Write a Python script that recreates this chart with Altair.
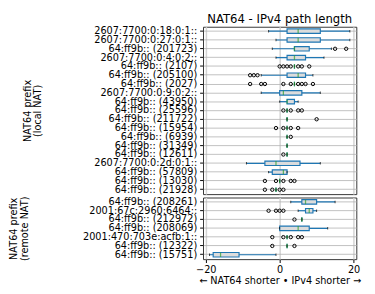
import altair as alt
import pandas as pd

# ---- data ----
local_prefix = ["2607:7700:0:18:0:1::", "2607:7700:0:27:0:1::", "64:ff9b:: (201723)",
                "2607:7700:0:4:0:2::", "64:ff9b:: (2107)", "64:ff9b:: (205100)",
                "64:ff9b:: (2027)", "2607:7700:0:9:0:2::", "64:ff9b:: (43950)",
                "64:ff9b:: (25596)", "64:ff9b:: (211722)", "64:ff9b:: (15954)",
                "64:ff9b:: (6939)", "64:ff9b:: (31349)", "64:ff9b:: (12611)",
                "2607:7700:0:2d:0:1::", "64:ff9b:: (57809)", "64:ff9b:: (13030)",
                "64:ff9b:: (21928)"]
local_lo = [-3, -1, -2, -1, 4, -5, 4, -5, 0, 2, 2, 2, 2, 2, 2, -9, -3, 0, -1]
local_q1 = [2, 2, 4, 2, 4, 2, 4, 0, 2, 2, 2, 2, 2, 2, 2, -4, -2, 0, -1]
local_med = [5, 5, 4, 4, 4, 5, 4, 1, 2, 2, 2, 2, 2, 2, 2, -1, 1, 0, -1]
local_q3 = [11, 11, 8, 7, 4, 7, 4, 6, 4, 2, 2, 2, 2, 2, 2, 5.5, 2, 0, -1]
local_hi = [19, 19, 14, 12, 4, 9, 4, 11, 5, 2, 2, 2, 2, 2, 2, 11, 2, 0, -1]
local_out = [[], [], [15, 18], [], [0, 1, 2, 3, 5, 6, 8], [-8, -7, -6],
             [-8, -5, -4, 1, 3, 5, 6, 7, 9], [], [], [1, 3, 5, 6], [10],
             [-1, 1, 3, 5], [3], [], [1], [], [], [-4, -1, 1, 3, 4], [-4, -2, 0, 1]]

remote_prefix = ["64:ff9b:: (208261)", "2001:67c:2960:6464::", "64:ff9b:: (212972)",
                 "64:ff9b:: (208069)", "2001:470:703e:acfb:1::", "64:ff9b:: (12322)",
                 "64:ff9b:: (15751)"]
remote_lo = [3, 5, 6, 0, 2, 2, -19]
remote_q1 = [6, 7, 6, 0, 2, 2, -18]
remote_med = [7, 8, 6, 5, 2, 2, -16]
remote_q3 = [10, 9, 6, 8, 2, 2, -11]
remote_hi = [15, 10, 6, 13, 2, 2, -1]
remote_out = [[], [-3, -1, 0, 1], [4], [], [-2, 1, 3, 5, 6], [-2, 4], []]

x_ticks = [-20, -10, 0, 10, 20]

FONT = "DejaVu Sans"
BLUE = "#1f77b4"
GREEN = "#2ca02c"

xscale = alt.Scale(domain=[-20.75, 20.75], nice=False, zero=False)


def panel(prefix, lo, q1, med, q3, hi, out, ytitle, title_pad, height, show_x, title=None):
    df = pd.DataFrame({"prefix": prefix, "lo": lo, "q1": q1, "med": med, "q3": q3, "hi": hi})
    odf = pd.DataFrame([{"prefix": p, "v": v} for p, vals in zip(prefix, out) for v in vals])

    ysc = alt.Scale(domain=prefix, paddingInner=0, paddingOuter=0)
    yaxis = alt.Axis(title=ytitle, labelFontSize=10, labelColor="black", tickSize=3.5,
                     tickColor="black", labelPadding=3, grid=True, gridColor="#b0b0b0",
                     gridWidth=0.8, domain=False, titleFontSize=10, titleFontWeight="normal",
                     titleColor="black", titlePadding=title_pad, titleLineHeight=11,
                     labelLimit=300, minExtent=130, maxExtent=130)
    if show_x:
        xaxis = alt.Axis(values=x_ticks, title="← NAT64 shorter • IPv4 shorter →",
                         labelFontSize=10, labelColor="black", tickSize=3.5, tickColor="black",
                         labelPadding=2, grid=True, gridColor="#d4d4d4", gridWidth=1.5,
                         domain=False, titleFontSize=10, titleFontWeight="normal",
                         titleColor="black", titlePadding=2)
    else:
        xaxis = alt.Axis(values=x_ticks, labels=False, ticks=False, title=None, grid=True,
                         gridColor="#d4d4d4", gridWidth=1.5, domain=False, labelPadding=0,
                         minExtent=0, maxExtent=0)

    y = alt.Y("prefix:N", scale=ysc, axis=yaxis, sort=prefix)
    y2 = alt.Y("prefix:N", scale=ysc, sort=prefix)

    base = alt.Chart(df)
    whisk = base.mark_rule(color=BLUE, strokeWidth=1.2).encode(
        x=alt.X("lo:Q", scale=xscale, axis=xaxis), x2="hi:Q", y=y)
    box = base.mark_bar(size=4.6, fill="#dcdcdc", stroke=BLUE, strokeWidth=1.2).encode(
        x=alt.X("q1:Q", scale=xscale), x2="q3:Q", y=y2)
    cap_lo = base.mark_tick(color="black", size=2.5, thickness=1).encode(
        x=alt.X("lo:Q", scale=xscale), y=y2)
    cap_hi = base.mark_tick(color="black", size=2.5, thickness=1).encode(
        x=alt.X("hi:Q", scale=xscale), y=y2)
    medm = base.mark_tick(color=GREEN, size=4.6, thickness=1.3).encode(
        x=alt.X("med:Q", scale=xscale), y=y2)
    fl = alt.Chart(odf).mark_point(shape="circle", size=12, filled=False, color="black",
                                   strokeWidth=1, opacity=1).encode(
        x=alt.X("v:Q", scale=xscale), y=y2)
    ch = alt.layer(whisk, box, cap_lo, cap_hi, medm, fl).properties(width=158, height=height)
    if title:
        ch = ch.properties(title=alt.TitleParams(title, fontSize=12, fontWeight="normal",
                                                 font=FONT, color="black", anchor="middle",
                                                 frame="group", offset=0))
    return ch


top = panel(local_prefix, local_lo, local_q1, local_med, local_q3, local_hi, local_out,
            ["NAT64 prefix", "(local NAT)"], 35, 172.5, False, "NAT64 - IPv4 path length")
bottom = panel(remote_prefix, remote_lo, remote_q1, remote_med, remote_q3, remote_hi,
               remote_out, ["NAT64 prefix", "(remote NAT)"], 49, 63.5, True)

chart = alt.vconcat(top, bottom, spacing=0).resolve_scale(x="shared").properties(
    padding={"left": 0, "top": 0, "right": 5, "bottom": 0}
).configure(font=FONT).configure_view(stroke="#333333", strokeWidth=1).configure_axis(
    labelFont=FONT, titleFont=FONT)

chart.save("out.html", embed_options={"renderer": "svg", "actions": False})
